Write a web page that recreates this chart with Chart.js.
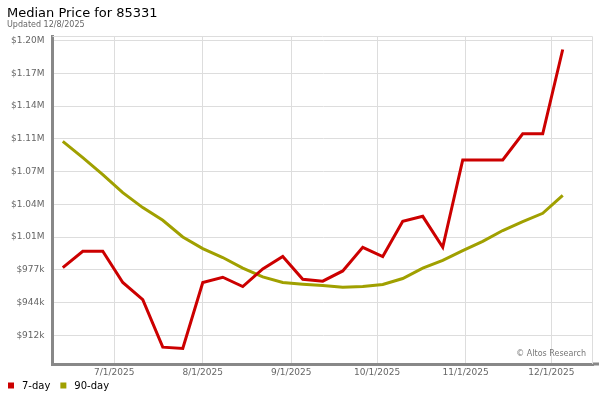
<!DOCTYPE html>
<html>
<head>
<meta charset="utf-8">
<script src="https://cdn.jsdelivr.net/npm/chart.js@4"></script>
<style>
  html, body { margin: 0; padding: 0; background: #fff; }
  #wrap { width: 600px; height: 400px; }
</style>
</head>
<body>
<div id="wrap"><canvas id="myChart" width="600" height="400"></canvas></div>
<script>
// weekly sample dates
const weeks = ['6/13/2025', '6/20/2025', '6/27/2025', '7/4/2025', '7/11/2025', '7/18/2025', '7/25/2025',
  '8/1/2025', '8/8/2025', '8/15/2025', '8/22/2025', '8/29/2025', '9/5/2025', '9/12/2025', '9/19/2025',
  '9/26/2025', '10/3/2025', '10/10/2025', '10/17/2025', '10/24/2025', '10/31/2025', '11/7/2025',
  '11/14/2025', '11/21/2025', '11/28/2025', '12/5/2025'];

const sevenDay = [978900, 995000, 995000, 964200, 947400, 900500, 899200, 964200, 969400, 960200,
  977600, 989800, 967400, 965500, 975600, 998900, 989800, 1024500, 1029400, 998900,
  1084900, 1084900, 1084900, 1110800, 1110800, 1193800];

const ninetyDay = [1103300, 1087200, 1070500, 1052800, 1038000, 1025500, 1009100, 997600, 988800, 978300,
  969700, 964200, 962500, 961200, 959500, 960200, 962200, 968100, 978300, 986100,
  995700, 1004800, 1015400, 1024200, 1032400, 1050100];

const xTickLabels = ['7/1/2025', '8/1/2025', '9/1/2025', '10/1/2025', '11/1/2025', '12/1/2025'];
const yTickValues = [912000, 944300, 976600, 1008900, 1041200, 1073500, 1105800, 1138100, 1170400, 1202700];
const yTickLabels = ['$912k', '$944k', '$977k', '$1.01M', '$1.04M', '$1.07M', '$1.11M', '$1.14M', '$1.17M', '$1.20M'];

// days since 1/1/2025
function dayNum(str) {
  const [m, d, y] = str.split('/').map(Number);
  return (Date.UTC(y, m - 1, d) - Date.UTC(2025, 0, 1)) / 864e5;
}

Chart.defaults.font.family = "'DejaVu Sans', sans-serif";

// frame, watermark and the little legend under the axis
const extras = {
  id: 'extras',
  beforeDatasetsDraw(chart) {
    const { ctx, chartArea: a } = chart;
    ctx.save();
    ctx.strokeStyle = '#dddddd';
    ctx.lineWidth = 1;
    ctx.beginPath();
    ctx.moveTo(a.left, a.top + 0.5);
    ctx.lineTo(a.right - 0.5, a.top + 0.5);
    ctx.lineTo(a.right - 0.5, a.bottom);
    ctx.stroke();

    ctx.font = "8px 'DejaVu Sans'";
    ctx.fillStyle = '#777777';
    ctx.textAlign = 'right';
    ctx.textBaseline = 'middle';
    ctx.fillText('© Altos Research', a.right - 7, a.bottom - 10);
    ctx.restore();
  },
  afterDraw(chart) {
    const { ctx, chartArea: a } = chart;
    ctx.save();
    ctx.fillStyle = '#888888';
    ctx.fillRect(a.right, a.bottom - 1.5, 6, 3);

    ctx.font = "10px 'DejaVu Sans'";
    ctx.textBaseline = 'middle';
    ctx.textAlign = 'left';
    let x = 8;
    chart.data.datasets.forEach((ds) => {
      ctx.fillStyle = ds.borderColor;
      ctx.fillRect(x, 382.5, 6, 6);
      ctx.fillStyle = '#000000';
      ctx.fillText(ds.label, x + 14, 386);
      x += 14 + ctx.measureText(ds.label).width + 10;
    });
    ctx.restore();
  }
};

const ctx = document.getElementById('myChart').getContext('2d');
new Chart(ctx, {
  type: 'line',
  data: {
    datasets: [{
      label: '7-day',
      data: weeks.map((w, i) => ({ x: dayNum(w), y: sevenDay[i] })),
      borderColor: '#cc0000',
      borderWidth: 3,
      pointRadius: 0,
      tension: 0
    }, {
      label: '90-day',
      data: weeks.map((w, i) => ({ x: dayNum(w), y: ninetyDay[i] })),
      borderColor: '#a0a000',
      borderWidth: 3,
      pointRadius: 0,
      tension: 0
    }]
  },
  options: {
    responsive: false,
    animation: false,
    layout: { padding: { left: 7, right: 7, top: 0, bottom: 21.7 } },
    plugins: {
      legend: { display: false },
      tooltip: { enabled: false },
      title: {
        display: true,
        text: 'Median Price for 85331',
        align: 'start',
        color: '#000000',
        font: { size: 13, weight: 'normal', lineHeight: 1 },
        padding: { top: 7.3, bottom: 0 }
      },
      subtitle: {
        display: true,
        text: 'Updated 12/8/2025',
        align: 'start',
        color: '#666666',
        font: { size: 8, weight: 'normal', lineHeight: 1 },
        padding: { top: 0.4, bottom: 7.3 }
      }
    },
    scales: {
      x: {
        type: 'linear',
        min: 159.4,
        max: 348.6,
        afterBuildTicks: (axis) => {
          axis.ticks = xTickLabels.map((t) => ({ value: dayNum(t) }));
        },
        afterFit: (scale) => { scale.height = 14.3; },
        ticks: {
          callback: (value, index) => xTickLabels[index],
          color: '#666666',
          font: { size: 9 },
          padding: 3.5,
          maxRotation: 0,
          autoSkip: false
        },
        grid: { color: '#dddddd', drawTicks: false },
        border: { color: '#888888', width: 3 }
      },
      y: {
        min: 883900,
        max: 1207100,
        afterBuildTicks: (axis) => {
          axis.ticks = yTickValues.map((v) => ({ value: v }));
        },
        afterFit: (scale) => { scale.width = 45.5; },
        ticks: {
          callback: (value, index) => yTickLabels[index],
          color: '#666666',
          font: { size: 9 },
          padding: 8,
          autoSkip: false
        },
        grid: { color: '#dddddd', drawTicks: false },
        border: { color: '#888888', width: 3 }
      }
    }
  },
  plugins: [extras]
});
</script>
</body>
</html>
